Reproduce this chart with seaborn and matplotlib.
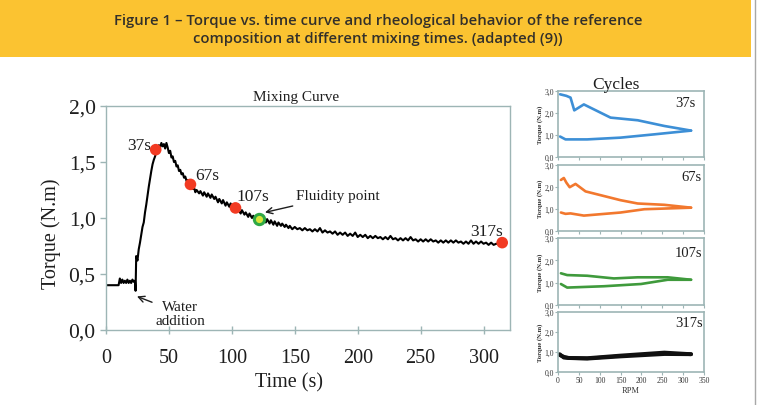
import matplotlib
matplotlib.use("Agg")
import matplotlib.pyplot as plt
from matplotlib.patches import Rectangle
from matplotlib.lines import Line2D
import seaborn as sns
import pandas as pd

# ---------------- data ----------------
header_lines = ["Figure 1 \u2013 Torque vs. time curve and rheological behavior of the reference",
                "composition at different mixing times. (adapted (9))"]

time_s = [0, 10, 11, 12, 13, 14, 15, 16, 17, 18, 19, 20, 21, 22, 23, 23.5,
          24, 25, 26, 27, 28, 29, 30, 31, 32, 33, 34, 35, 36, 37, 38, 39, 40,
          41, 42, 43, 44, 45, 46, 47, 48, 49, 50, 51, 52, 53, 54, 55, 56, 57,
          58, 59, 60, 61, 62, 63, 64, 65, 66, 67, 68, 69, 70, 71, 72, 74, 75,
          77, 78, 80, 81, 83, 84, 86, 87, 89, 90, 92, 93, 95, 96, 98, 99, 101,
          102, 104, 105, 107, 108, 110, 111, 113, 114, 116, 117, 119, 121, 122,
          124, 125, 127, 128, 130, 131, 133, 134, 136, 137, 139, 140, 142, 143,
          145, 146, 148, 150, 152, 154, 156, 158, 160, 162, 164, 166, 168, 170,
          172, 174, 176, 178, 180, 182, 184, 186, 188, 190, 192, 194, 196, 198,
          200, 202, 204, 206, 208, 210, 212, 214, 216, 218, 220, 222, 224, 226,
          228, 230, 232, 234, 236, 238, 240, 242, 244, 246, 248, 250, 252, 254,
          256, 258, 260, 262, 264, 266, 268, 270, 272, 274, 276, 278, 280, 282,
          284, 286, 288, 290, 292, 294, 296, 298, 300, 302, 304, 306, 308, 310,
          312, 314]
torque_nm = [0.40, 0.40, 0.46, 0.42, 0.45, 0.42, 0.44, 0.42, 0.45, 0.42, 0.44,
             0.42, 0.45, 0.43, 0.44, 0.35,
             0.66, 0.62, 0.72, 0.78, 0.85, 0.92, 0.96, 1.05, 1.12, 1.20, 1.28,
             1.35, 1.42, 1.48, 1.52, 1.55, 1.60, 1.62, 1.65, 1.63, 1.67, 1.64,
             1.66, 1.62, 1.67, 1.63, 1.58, 1.60, 1.54, 1.55, 1.50, 1.51, 1.46,
             1.47, 1.42, 1.43, 1.39, 1.40, 1.36, 1.37, 1.33, 1.34, 1.31, 1.30,
             1.28, 1.26, 1.27, 1.23, 1.25, 1.22, 1.24, 1.20, 1.23, 1.19, 1.22,
             1.18, 1.21, 1.17, 1.19, 1.14, 1.17, 1.13, 1.16, 1.11, 1.14, 1.10,
             1.13, 1.08, 1.10, 1.06, 1.08, 1.04, 1.07, 1.03, 1.05, 1.01, 1.04,
             1.00, 1.02, 0.99, 0.98, 1.00, 0.97, 1.01, 0.96, 0.99, 0.95, 0.98,
             0.94, 0.97, 0.93, 0.96, 0.93, 0.95, 0.92, 0.94, 0.91, 0.93, 0.90,
             0.92, 0.90, 0.91, 0.89, 0.91, 0.89, 0.90, 0.88, 0.90, 0.88, 0.91,
             0.87, 0.89, 0.87, 0.88, 0.86, 0.88, 0.85, 0.87, 0.85, 0.87, 0.84,
             0.86, 0.84, 0.87, 0.83, 0.85, 0.83, 0.85, 0.82, 0.84, 0.82, 0.84,
             0.82, 0.83, 0.81, 0.83, 0.81, 0.84, 0.81, 0.82, 0.80, 0.82, 0.80,
             0.82, 0.80, 0.83, 0.80, 0.81, 0.79, 0.81, 0.79, 0.81, 0.79, 0.81,
             0.79, 0.80, 0.78, 0.80, 0.78, 0.80, 0.78, 0.80, 0.78, 0.80, 0.78,
             0.79, 0.77, 0.79, 0.77, 0.80, 0.77, 0.79, 0.77, 0.79, 0.77, 0.78,
             0.76, 0.78, 0.76, 0.77, 0.77, 0.78]

sample_labels = ["37s", "67s", "107s", "317s"]
sample_time = [39.5, 67.1, 102.9, 314.8]
sample_torque = [1.61, 1.30, 1.09, 0.78]
fluidity_time = [121.2]
fluidity_torque = [0.99]

main_xticks = [0, 50, 100, 150, 200, 250, 300]
main_yticks = [0.0, 0.5, 1.0, 1.5, 2.0]
main_yticklabels = ["0,0", "0,5", "1,0", "1,5", "2,0"]

# cycles (RPM vs torque), up and down branches
cyc_names = ["37s", "67s", "107s", "317s"]
cyc_colors = ["#3d8fd6", "#f2782e", "#3f9a3c", "#111111"]
rpm_up = [
    [5, 20, 30, 39, 62, 126, 191, 255, 319],
    [7, 14, 20, 28, 42, 66, 150, 191, 255, 319],
    [7, 22, 70, 134, 191, 263, 319],
    [4, 14, 30, 70, 150, 255, 319],
]
tq_up = [
    [2.85, 2.78, 2.70, 2.12, 2.39, 1.79, 1.67, 1.41, 1.20],
    [2.32, 2.41, 2.20, 1.99, 2.14, 1.80, 1.40, 1.25, 1.19, 1.06],
    [1.42, 1.34, 1.31, 1.19, 1.24, 1.24, 1.13],
    [0.89, 0.72, 0.70, 0.69, 0.82, 0.97, 0.89],
]
rpm_down = [
    [319, 231, 150, 70, 18, 5],
    [319, 207, 150, 62, 30, 18, 7],
    [319, 263, 199, 110, 22, 7],
    [319, 255, 150, 70, 25, 14, 4],
]
tq_down = [
    [1.20, 1.03, 0.88, 0.80, 0.80, 0.93],
    [1.06, 0.99, 0.84, 0.70, 0.80, 0.78, 0.84],
    [1.13, 1.13, 0.94, 0.84, 0.78, 0.94],
    [0.89, 0.90, 0.78, 0.67, 0.70, 0.76, 0.85],
]
cyc_yticks = [0, 1, 2, 3]
cyc_yticklabels = ["0,0", "1,0", "2,0", "3,0"]
cyc_xticks = [0, 50, 100, 150, 200, 250, 300, 350]

# ---------------- style ----------------
sns.set_style("ticks")
serif = ["Liberation Serif", "DejaVu Serif"]
plt.rcParams["font.family"] = serif
spine_col = "#9db5b5"
txt_col = "#1e1e1e"

W, H = 761, 406
fig = plt.figure(figsize=(W / 100, H / 100), dpi=100)
fig.patch.set_facecolor("white")


def fx(px):
    return px / W


def fy(py):
    return 1 - py / H


# header band
fig.patches.append(Rectangle((0, fy(58)), fx(751), 58 / H, transform=fig.transFigure,
                             facecolor="#fbc331", edgecolor="none", zorder=0))
fig.lines.append(Line2D([fx(754.5), fx(754.5)], [0, 1], transform=fig.transFigure,
                        color="#a8a8a8", lw=1.0))
for i, line in enumerate(header_lines):
    fig.text(fx(378), fy(20.5 + 18.5 * i), line, ha="center", va="center",
             fontsize=10.7, color="#33302a", family=["Open Sans", "DejaVu Sans"],
             fontweight="semibold")

# ---------------- main plot ----------------
ax = fig.add_axes([fx(106), fy(331), fx(510 - 106), (331 - 107) / H])
df = pd.DataFrame({"t": time_s, "tq": torque_nm})
sns.lineplot(data=df, x="t", y="tq", ax=ax, sort=False, estimator=None,
             color="black", lw=1.5)
sns.scatterplot(x=sample_time, y=sample_torque, ax=ax, color="#f23a22", s=70,
                edgecolor="none", zorder=5)
sns.scatterplot(x=fluidity_time, y=fluidity_torque, ax=ax, color="#d8e43a", s=55,
                edgecolor="#2fa845", linewidth=2.2, zorder=6)
ax.set_xlim(0, 321)
ax.set_ylim(0, 2.0)
ax.set_xticks(main_xticks)
ax.set_yticks(main_yticks)
ax.set_yticklabels(main_yticklabels)
ax.tick_params(axis="both", labelsize=15.5, colors=spine_col, labelcolor=txt_col,
               length=4, width=1, direction="out")
ax.tick_params(axis="x", labelsize=14.5, pad=10, direction="inout", length=6)
for s in ax.spines.values():
    s.set_color(spine_col)
    s.set_linewidth(1.0)
ax.set_xlabel("Time (s)", fontsize=14.5, color=txt_col)
ax.set_ylabel("Torque (N.m)", fontsize=14.5, color=txt_col)
ax.xaxis.set_label_coords(0.453, -0.19)
ax.yaxis.set_label_coords(-0.112, 0.433)
ax.set_title("Mixing Curve", fontsize=11, color=txt_col, pad=4, x=0.47)

label_pos = [(26.6, 1.65), (80.5, 1.38), (117, 1.20), (302.7, 0.885)]
for lab, (lx, ly) in zip(sample_labels, label_pos):
    ax.text(lx, ly, lab, fontsize=12.5, ha="center", va="center", color=txt_col)
ax.annotate("Fluidity point", xy=(126.3, 1.05), xytext=(151, 1.20),
            fontsize=11, color=txt_col, ha="left", va="center",
            arrowprops=dict(arrowstyle="->", color=txt_col, lw=1.0,
                            shrinkA=2, shrinkB=0))
ax.annotate("Water\naddition", xy=(24.6, 0.30), xytext=(59, 0.15),
            fontsize=11, color=txt_col, ha="center", va="center",
            linespacing=1.1,
            arrowprops=dict(arrowstyle="->", color=txt_col, lw=1.0,
                            shrinkA=12, shrinkB=0))

# ---------------- cycles panels ----------------
panels = [(92, 158), (166, 232), (239, 306), (313, 373)]
lab_xy = [(0.94, 0.83), (0.985, 0.82), (0.99, 0.79), (0.99, 0.82)]
for k, (top, bot) in enumerate(panels):
    a = fig.add_axes([fx(558), fy(bot), fx(704 - 558), (bot - top) / H])
    lw = 2.8 if k == 3 else 1.9
    d_up = pd.DataFrame({"rpm": rpm_up[k], "tq": tq_up[k]})
    d_dn = pd.DataFrame({"rpm": rpm_down[k], "tq": tq_down[k]})
    sns.lineplot(data=d_up, x="rpm", y="tq", ax=a, sort=False, estimator=None,
                 color=cyc_colors[k], lw=lw)
    sns.lineplot(data=d_dn, x="rpm", y="tq", ax=a, sort=False, estimator=None,
                 color=cyc_colors[k], lw=lw)
    a.set_xlim(0, 350)
    a.set_ylim(0, 3.0)
    a.set_yticks(cyc_yticks)
    a.set_yticklabels(cyc_yticklabels)
    a.set_xticks(cyc_xticks)
    a.tick_params(axis="both", labelsize=5.5, colors=spine_col, labelcolor="#333333",
                  length=2, width=0.8, pad=1)
    if k < 3:
        a.set_xticklabels([])
        a.set_xlabel("")
    else:
        a.set_xlabel("RPM", fontsize=6, color="#333333", labelpad=1)
    for s in a.spines.values():
        s.set_color(spine_col)
        s.set_linewidth(1.2)
    a.set_ylabel("Torque (N.m)", fontsize=4.8, color="#333333", labelpad=1,
                 fontweight="bold")
    a.text(lab_xy[k][0], lab_xy[k][1], cyc_names[k], transform=a.transAxes,
           ha="right", va="center", fontsize=10.5, color=txt_col)

fig.text(fx(616), fy(85), "Cycles", ha="center", va="center", fontsize=12.5,
         color=txt_col)

fig.savefig("out.png", dpi=100)
